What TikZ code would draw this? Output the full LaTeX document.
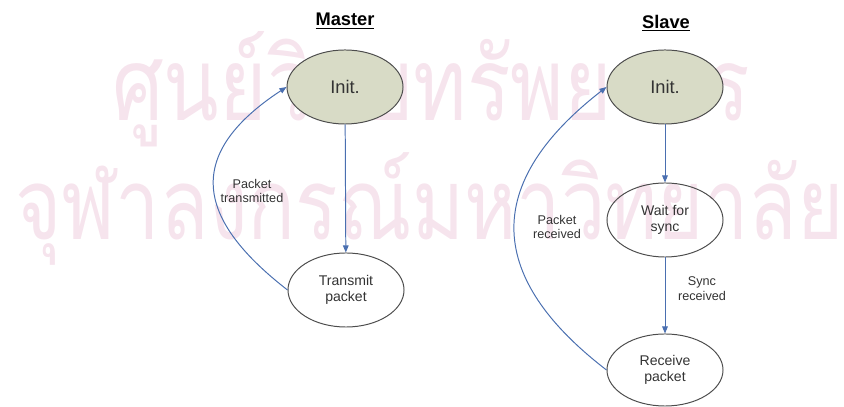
\documentclass[tikz,border=0pt]{standalone}
\usepackage{fontspec}
\setmainfont{Liberation Sans}
\newfontfamily\thaifont[Script=Thai]{Loma}
\usepackage{tikz}
\usetikzlibrary{arrows.meta, positioning, shapes.geometric}
\usepackage{xcolor}
\definecolor{edgeblue}{RGB}{74, 111, 176}
\definecolor{initfill}{RGB}{216, 219, 198}
\definecolor{wmpink}{RGB}{246, 228, 237}

\begin{document}
\begin{tikzpicture}[x=0.025cm, y=0.025cm,
  st/.style={draw=black!70, ellipse, line width=0.7pt, minimum width=2.9cm, minimum height=1.85cm, inner sep=0pt, align=center, font=\fontsize{10}{11.5}\selectfont, text=black!80},
  ini/.style={st, fill=initfill, font=\fontsize{13}{15}\selectfont},
  arr/.style={-{Triangle[length=5pt, width=4pt]}, edgeblue, line width=0.7pt},
  lbl/.style={align=center, font=\fontsize{9}{10.5}\selectfont, text=black!80},
  ttl/.style={font=\fontsize{13}{15}\selectfont\bfseries},
  wm/.style={anchor=base west, inner sep=0pt, text=wmpink},
]
  \useasboundingbox (0,0) rectangle (844,407);
  % watermark
  \node[wm] (wm1) at (112,286) {\scalebox{1}[1.25]{\resizebox{15.95cm}{!}{\thaifont ศูนย์วิทยทรัพยากร}}};
  \node[wm] (wm2) at (15,167) {\scalebox{1}[1.25]{\resizebox{20.7cm}{!}{\thaifont จุฬาลงกรณ์มหาวิทยาลัย}}};
  % master
  \node[ttl] (mttl) at (345,386) {\underline{Master}};
  \node[ini] (minit) at (345,320) {Init.};
  \node[st]  (mtx)   at (346,117) {Transmit\\packet};
  \node[lbl] (mlbl)  at (252,216) {Packet\\transmitted};
  \draw[arr] (minit) -- (mtx);
  \draw[arr] (mtx.west) .. controls (200,185) and (180,250) .. (minit.west);
  % slave
  \node[ttl] (sttl)  at (666,384) {\underline{Slave}};
  \node[ini] (sinit) at (665,320) {Init.};
  \node[st]  (swait) at (665,187) {Wait for\\sync};
  \node[st, minimum height=1.8cm] (srecv) at (665,37) {Receive\\packet};
  \node[lbl] (slbl1) at (557,180) {Packet\\received};
  \node[lbl] (slbl2) at (702,118) {Sync\\received};
  \draw[arr] (sinit) -- (swait);
  \draw[arr] (swait) -- (srecv);
  \draw[arr] (srecv.west) .. controls (505,115) and (465,210) .. (sinit.west);
\end{tikzpicture}
\end{document}
